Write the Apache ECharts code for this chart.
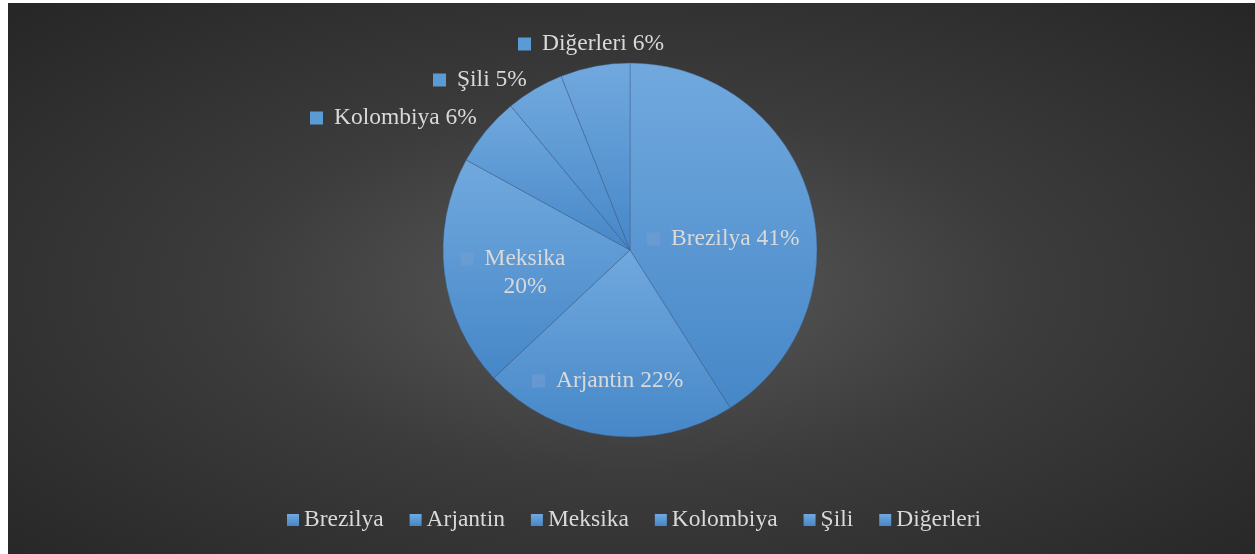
<!DOCTYPE html>
<html>
<head>
<meta charset="utf-8">
<script src="https://cdn.jsdelivr.net/npm/echarts@6/dist/echarts.min.js"></script>
<style>
  html, body { margin: 0; padding: 0; background: #fff; }
  #bg {
    position: absolute; left: 8px; top: 3px; right: 0; bottom: 0;
    background: radial-gradient(ellipse farthest-corner at 50% 52%, #5a5a5a 0%, #3c3c3c 45%, #262626 100%);
  }
  #chart { position: absolute; left: 0; top: 0; width: 1255px; height: 554px; }
</style>
</head>
<body>
<div id="bg"></div>
<div id="chart"></div>
<script>
// ülke payları (%)
var categories = ['Brezilya', 'Arjantin', 'Meksika', 'Kolombiya', 'Şili', 'Diğerleri'];
var values = [41, 22, 20, 6, 5, 6];

// etiket konumları (x, dikey orta) ve hizalama
var labelPos = [
  [647, 239], [532, 381], [513, 273],
  [310, 118], [433, 80], [518, 44]
];
var labelAlign = ['left', 'left', 'center', 'left', 'left', 'left'];
var insideLabel = [true, true, true, false, false, false];

var serif = '"Liberation Serif", "Times New Roman", serif';

function sliceColor() {
  return {
    type: 'linear', x: 0, y: 0, x2: 0, y2: 1,
    colorStops: [
      { offset: 0, color: '#71a9de' },
      { offset: 1, color: '#4687c8' }
    ]
  };
}

function markStyle(inside) {
  return {
    width: 13, height: 13, lineHeight: 28,
    backgroundColor: inside ? 'rgba(120,160,210,0.5)' : '#5b9bd5'
  };
}

var pieData = categories.map(function (name, i) {
  return {
    name: name,
    value: values[i],
    itemStyle: { color: sliceColor() },
    label: { rich: { sq: markStyle(insideLabel[i]) } }
  };
});

var myChart = echarts.init(document.getElementById('chart'));
myChart.setOption({
  animation: false,
  backgroundColor: 'transparent',
  legend: {
    data: categories,
    left: 287,
    top: 507,
    padding: 0,
    icon: 'rect',
    itemWidth: 12,
    itemHeight: 12,
    itemGap: 26,
    itemStyle: { borderWidth: 0, shadowBlur: 0 },
    textStyle: { color: '#d9d9d9', fontFamily: serif, fontSize: 23.5, lineHeight: 26 }
  },
  series: [{
    type: 'pie',
    center: [630, 250],
    radius: [0, 187],
    startAngle: 90,
    clockwise: true,
    avoidLabelOverlap: false,
    data: pieData,
    itemStyle: {
      borderColor: 'rgba(60,95,140,0.55)',
      borderWidth: 0.8
    },
    label: {
      show: true,
      position: 'inside',
      formatter: function (p) {
        if (p.dataIndex === 2) {
          return '{sq|}{gap|}{t|' + p.name + '}\n{sp|}{t|' + p.value + '%}';
        }
        return '{sq|}{gap|}{t|' + p.name + ' ' + p.value + '%}';
      },
      rich: {
        sq: markStyle(false),
        gap: { width: 11, lineHeight: 28 },
        sp: { width: 24, lineHeight: 28 },
        t: { color: '#d9d9d9', fontFamily: serif, fontSize: 23.5, lineHeight: 28 }
      }
    },
    labelLine: { show: false },
    labelLayout: function (params) {
      var i = params.dataIndex;
      return { x: labelPos[i][0], y: labelPos[i][1], align: labelAlign[i], verticalAlign: 'middle' };
    },
    emphasis: { disabled: true }
  }]
});
</script>
</body>
</html>
